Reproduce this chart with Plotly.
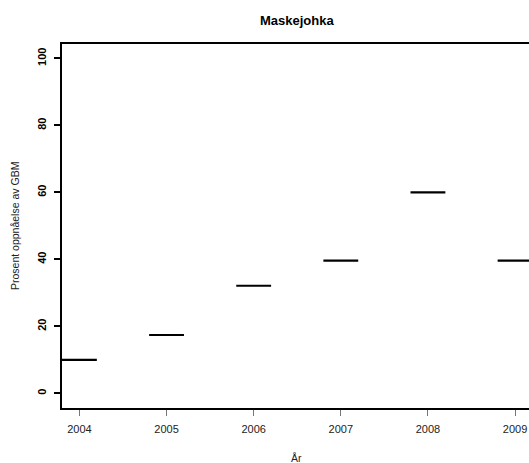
import plotly.graph_objects as go

# Annual achievement (percent of GBM) for Maskejohka
years = [2004, 2005, 2006, 2007, 2008, 2009]
values = [10, 17.4, 32.1, 39.6, 60, 39.6]
half_width = 0.2

fig = go.Figure()
for yr, v in zip(years, values):
    fig.add_trace(go.Scatter(
        x=[yr - half_width, yr + half_width], y=[v, v],
        mode="lines", line=dict(color="black", width=2.2),
        showlegend=False, hoverinfo="skip",
    ))

font_family = "Liberation Sans, Arial, sans-serif"

fig.update_layout(
    width=529, height=463,
    margin=dict(l=62, r=0, t=44, b=55),
    plot_bgcolor="white", paper_bgcolor="white",
    showlegend=False,
    xaxis=dict(
        range=[2003.8, 2009.16], tickvals=years, ticktext=[str(y) for y in years],
        showgrid=False, zeroline=False,
        showline=True, linecolor="black", linewidth=2, mirror=True,
        ticks="outside", ticklen=6, tickwidth=1, tickcolor="#777777",
        ticklabelstandoff=4,
        tickfont=dict(family=font_family, size=11, color="#222222"),
    ),
    yaxis=dict(
        range=[-4.4, 104.3], tickvals=[0, 20, 40, 60, 80, 100],
        showgrid=False, zeroline=False,
        showline=True, linecolor="black", linewidth=2,
        ticks="outside", ticklen=6, tickwidth=2, tickcolor="black",
        tickangle=-90, ticklabelstandoff=4,
        tickfont=dict(family=font_family, size=11, color="black", weight="bold"),
    ),
    annotations=[
        dict(text="<b>Maskejohka</b>", xref="paper", yref="paper",
             x=0.5026, y=1.064, showarrow=False, xanchor="center", yanchor="middle",
             font=dict(family=font_family, size=13, color="black")),
        dict(text="År", xref="paper", yref="paper",
             x=0.5026, y=-0.137, showarrow=False, xanchor="center", yanchor="middle",
             font=dict(family=font_family, size=10.5, color="#222222")),
        dict(text="Prosent oppnåelse av GBM", xref="paper", yref="paper",
             x=-0.1006, y=0.5, showarrow=False, xanchor="center", yanchor="middle",
             textangle=-90,
             font=dict(family=font_family, size=10.5, color="#222222")),
    ],
)

fig.write_html("out.html")
